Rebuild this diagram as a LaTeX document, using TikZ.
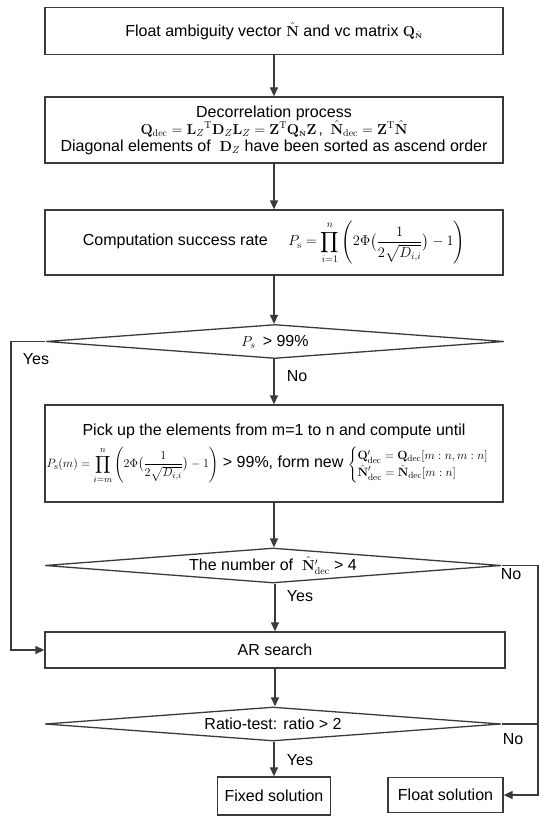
\documentclass[tikz,border=0pt]{standalone}
\usepackage{amsmath}
\usepackage[no-math]{fontspec}
\setmainfont{Liberation Sans}
\usetikzlibrary{arrows.meta,shapes.geometric}
\definecolor{ln}{HTML}{3A3A3A}
\tikzset{
  every node/.style={font=\fontsize{16}{18}\selectfont, text=black},
  procbox/.style={draw=ln, line width=1.3pt, rectangle, inner sep=0pt, align=center},
  decision/.style={draw=ln, line width=1.3pt, diamond, aspect=14, inner sep=0pt, minimum height=34pt},
  arr/.style={draw=ln, line width=1.3pt, -{Triangle[length=9pt,width=8pt]}},
  plain/.style={draw=ln, line width=1.3pt},
  lbl/.style={inner sep=0pt}
}
\newcommand{\bN}{\hat{\mathbf{N}}}
\newcommand{\mfont}{\fontsize{14}{16}\selectfont}
\newcommand{\sfont}{\fontsize{12.5}{14}\selectfont}
\begin{document}
\begin{tikzpicture}[x=1pt,y=-1pt]
\useasboundingbox (0,0) rectangle (550,821);
\node[procbox, minimum width=458pt, minimum height=47pt] (b1) at (274,31)
  {Float ambiguity vector {\mfont$\bN$} and vc matrix {\mfont$\mathbf{Q}_{\scriptscriptstyle\bN}$}};
\node[procbox, minimum width=458pt, minimum height=66pt] (b2) at (274,130)
  {Decorrelation process\\[-1pt]
   {\mfont$\mathbf{Q}_{\mathrm{dec}}=\mathbf{L}_Z{}^{\mathrm{T}}\mathbf{D}_Z\mathbf{L}_Z=\mathbf{Z}^{\mathrm{T}}\mathbf{Q}_{\scriptscriptstyle\bN}\mathbf{Z}$\,,\;
   $\bN_{\mathrm{dec}}=\mathbf{Z}^{\mathrm{T}}\bN$}\\[-1pt]
   Diagonal elements of \ {\mfont$\mathbf{D}_Z$} have been sorted as ascend order};
\node[procbox, minimum width=458pt, minimum height=65pt] (b3) at (274,242.5)
  {Computation success rate \quad {\mfont$P_{\mathrm{s}}=\displaystyle\prod_{i=1}^{n}\left(2\Phi\bigl(\frac{1}{2\sqrt{D_{i,i}}}\bigr)-1\right)$}};
\node[decision, minimum width=458pt] (d1) at (275,341.5) {{\mfont$P_s$} \,> 99\%};
\node[procbox, minimum width=458pt, minimum height=97pt] (b4) at (274,453.5)
  {Pick up the elements from m=1 to n and compute until\\[7pt]
   {\sfont$P_{\mathrm{s}}(m)=\displaystyle\prod_{i=m}^{n}\left(2\Phi\bigl(\frac{1}{2\sqrt{D_{i,i}}}\bigr)-1\right)$} > 99\%, form new
   {\sfont$\begin{cases}\mathbf{Q}'_{\mathrm{dec}}=\mathbf{Q}_{\mathrm{dec}}[m:n,m:n]\\ \bN'_{\mathrm{dec}}=\bN_{\mathrm{dec}}[m:n]\end{cases}$}};
\node[decision, minimum width=456pt, minimum height=35pt] (d2) at (273,565.5) {The number of \ {\mfont$\bN'_{\mathrm{dec}}$} > 4};
\node[procbox, minimum width=460pt, minimum height=36pt] (ar) at (275,650) {AR search};
\node[decision, minimum width=456pt] (d3) at (273,724) {Ratio-test: ratio > 2};
\node[procbox, minimum width=113pt, minimum height=38pt] (fx) at (274,796) {Fixed solution};
\node[procbox, minimum width=115pt, minimum height=35pt] (fl) at (445.5,795) {Float solution};
\coordinate (yl) at (11,341.5);
\coordinate (nr) at (538,565.5);
\draw[arr] (b1.south) -- (b2.north);
\draw[arr] (b2.south) -- (b3.north);
\draw[arr] (b3.south) -- (b3.south |- d1.north);
\draw[arr] (b4.north |- d1.south) -- (b4.north);
\draw[arr] (b4.south) -- (b4.south |- d2.north);
\draw[arr] (ar.north |- d2.south) -- (ar.north);
\draw[arr] (ar.south) -- (ar.south |- d3.north);
\draw[arr] (fx.north |- d3.south) -- (fx.north);
\draw[arr] (d1.west) -- (yl) |- (ar.west);
\draw[arr] (d2.east) -- (nr) |- (fl.east);
\draw[plain] (d3.east) -- (d3.east -| nr);
\node[lbl] (y1) at (36,359) {Yes};
\node[lbl] (n1) at (297,376) {No};
\node[lbl] (y2) at (300,596) {Yes};
\node[lbl] (n2) at (511,574) {No};
\node[lbl] (n3) at (513,739) {No};
\node[lbl] (y3) at (300,760) {Yes};
\end{tikzpicture}
\end{document}
